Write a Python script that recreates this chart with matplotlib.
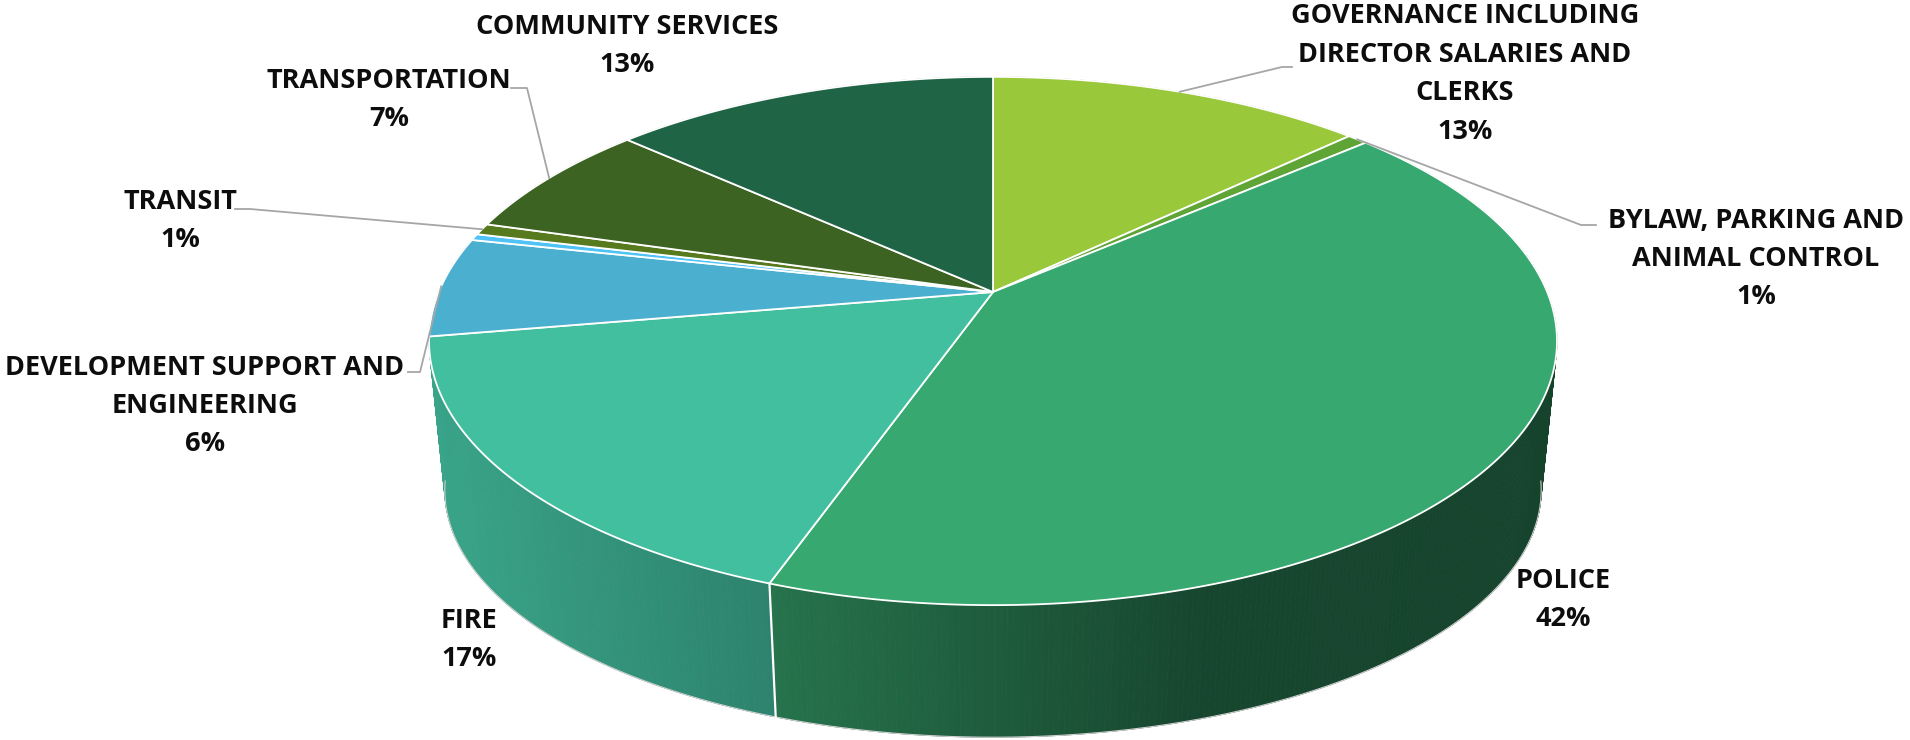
import numpy as np
import matplotlib
matplotlib.use("Agg")
import matplotlib.pyplot as plt
from matplotlib.patches import Polygon
from matplotlib.collections import PolyCollection
from matplotlib.colors import to_rgb

# slice data, clockwise from 12 o'clock
categories = ["GOVERNANCE INCLUDING\nDIRECTOR SALARIES AND\nCLERKS",
              "BYLAW, PARKING AND\nANIMAL CONTROL",
              "POLICE",
              "FIRE",
              "DEVELOPMENT SUPPORT AND\nENGINEERING",
              "",
              "TRANSIT",
              "TRANSPORTATION",
              "COMMUNITY SERVICES"]
values = [12.9, 0.7, 41.8, 16.9, 6.1, 0.4, 0.7, 7.2, 13.3]
colors = ["#99c83a", "#5fa536", "#37a86f", "#42bf9f", "#4bb0cf",
          "#4fc3f5", "#587a1f", "#3c6321", "#206446"]

# label layout (pixel positions) and leader stubs
label_xy = [(1465, 74), (1756, 259), (1563, 600), (469, 640), (205, 406),
            None, (180, 221), (389, 100), (627, 46)]
leader = {0: (1292, 1282, 67), 1: (1596, 1581, 225), 4: (408, 420, 372),
          6: (235, 250, 209), 7: (511, 527, 88)}

# projection of the pie disc
S = 554.2
CX, CY = 993, 292
PHI = np.radians(27.4)
D = 4.786
KX, KY = 0.972, 0.936
WIDE_Y = CY + 49
DEPTH = 149


def top_xy(t):
    X = np.sin(t)
    Y = np.cos(t)
    d = D + Y * np.cos(PHI)
    return CX + S * X * D / d, CY - S * Y * np.sin(PHI) * D / d


def bottom_xy(t):
    x, y = top_xy(t)
    return CX + (x - CX) * KX, WIDE_Y + DEPTH + (y - WIDE_Y) * KY


def shade(x):
    return np.interp(x, [430, 780, 1000, 1200, 1560], [0.86, 0.68, 0.54, 0.42, 0.40])


total = sum(values)
fr = np.array(values) / total
edges = np.concatenate([[0], np.cumsum(fr)]) * 2 * np.pi

fig = plt.figure(figsize=(19.1, 7.4), dpi=100)
ax = fig.add_axes([0, 0, 1, 1])
ax.set_xlim(0, 1910)
ax.set_ylim(740, 0)
ax.axis("off")

# side wall
quads = []
for i in range(len(values)):
    t = np.linspace(edges[i], edges[i + 1], max(3, int(np.degrees(edges[i + 1] - edges[i]) * 2)))
    base = np.array(to_rgb(colors[i]))
    for a, b in zip(t[:-1], t[1:]):
        xa, ya = top_xy(a)
        xb, yb = top_xy(b)
        xc, yc = bottom_xy(b)
        xd, yd = bottom_xy(a)
        col = np.clip(base * shade((xa + xb) / 2), 0, 1)
        quads.append((np.cos((a + b) / 2), [(xa, ya), (xb, yb), (xc, yc), (xd, yd)], col))
quads.sort(key=lambda q: -q[0])
pc = PolyCollection([q[1] for q in quads], facecolors=[q[2] for q in quads],
                    edgecolors=[q[2] for q in quads], linewidths=0.6)
ax.add_collection(pc)

# outline of the bottom
tt = np.linspace(0, 2 * np.pi, 720)
bx, by = bottom_xy(tt)
front = np.cos(tt) < -0.15
ax.plot(np.where(front, bx, np.nan), np.where(front, by, np.nan), color="#d0d0d0", lw=0.8)

for e in edges[1:-1]:
    if np.cos(e) < -0.25:
        x0, y0 = top_xy(e)
        x1, y1 = bottom_xy(e)
        ax.plot([x0, x1], [y0, y1], color="white", lw=1.6)

# top face
for i in range(len(values)):
    t = np.linspace(edges[i], edges[i + 1], max(3, int(np.degrees(edges[i + 1] - edges[i]) * 2)))
    x, y = top_xy(t)
    pts = [(CX, CY)] + list(zip(x, y))
    ax.add_patch(Polygon(pts, closed=True, facecolor=colors[i], edgecolor="white",
                         lw=1.3, joinstyle="round"))

# labels
for i, name in enumerate(categories):
    if not name or label_xy[i] is None:
        continue
    pct = f"{round(fr[i] * 100)}%"
    lx, ly = label_xy[i]
    ax.text(lx, ly, name + "\n" + pct, ha="center", va="center", fontsize=19.5,
            fontweight="bold", family="Open Sans", linespacing=1.62, color="#0d0d0d")
    if i in leader:
        s0, s1, sy = leader[i]
        rx, ry = top_xy((edges[i] + edges[i + 1]) / 2)
        ax.plot([s0, s1, rx], [sy, sy, ry], color="#a6a6a6", lw=1.3, zorder=5)

fig.savefig("out.png", dpi=100)
